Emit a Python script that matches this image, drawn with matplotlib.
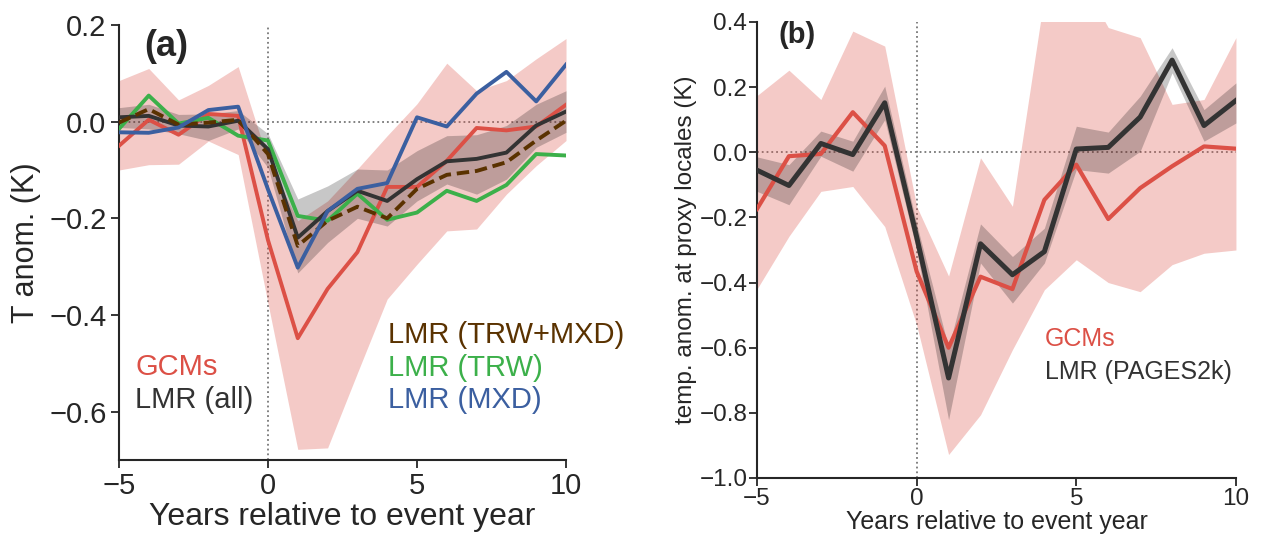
import matplotlib
matplotlib.use("Agg")
import matplotlib.pyplot as plt
import numpy as np

plt.rcParams['font.family'] = ['Liberation Sans', 'DejaVu Sans']
plt.rcParams['axes.unicode_minus'] = True

# event years
years = np.arange(-5, 11)

# panel (a): regional temperature anomaly
gcm_a = [-0.05, 0.004, -0.027, 0.016, 0.012, -0.245, -0.448, -0.346,
         -0.27, -0.135, -0.135, -0.081, -0.013, -0.018, -0.010, 0.035]
gcm_a_lo = [-0.10, -0.089, -0.088, -0.04, -0.068, -0.376, -0.678, -0.675,
            -0.52, -0.367, -0.295, -0.226, -0.222, -0.15, -0.091, -0.039]
gcm_a_hi = [0.085, 0.11, 0.045, 0.075, 0.114, -0.08, -0.205, -0.164,
            -0.098, -0.029, 0.037, 0.121, 0.064, 0.085, 0.13, 0.172]
lmr_all = [0.009, 0.012, -0.008, -0.01, 0.002, -0.057, -0.24, -0.185,
           -0.143, -0.164, -0.119, -0.082, -0.077, -0.064, -0.008, 0.021]
lmr_all_lo = [-0.012, -0.015, -0.025, -0.039, -0.015, -0.095, -0.313, -0.25,
              -0.2, -0.216, -0.164, -0.129, -0.15, -0.119, -0.053, -0.022]
lmr_all_hi = [0.029, 0.036, 0.015, 0.016, 0.023, -0.025, -0.16, -0.133,
              -0.098, -0.1, -0.06, -0.029, -0.027, -0.008, 0.036, 0.064]
lmr_trw = [-0.015, 0.054, -0.004, 0.008, -0.029, -0.039, -0.195, -0.205,
           -0.149, -0.203, -0.188, -0.143, -0.164, -0.131, -0.067, -0.07]
lmr_mxd = [-0.022, -0.023, -0.012, 0.024, 0.031, -0.14, -0.302, -0.185,
           -0.139, -0.127, 0.009, -0.01, 0.058, 0.103, 0.042, 0.118]
lmr_trw_mxd = [-0.002, 0.026, -0.006, -0.002, 0.004, -0.067, -0.257, -0.205,
               -0.176, -0.2, -0.139, -0.11, -0.102, -0.084, -0.039, 0.002]

# panel (b): anomaly at proxy locales
gcm_b = [-0.174, -0.012, -0.005, 0.123, 0.02, -0.366, -0.6, -0.382,
         -0.42, -0.146, -0.038, -0.205, -0.11, -0.043, 0.018, 0.011]
gcm_b_lo = [-0.42, -0.258, -0.12, -0.105, -0.228, -0.53, -0.928, -0.806,
            -0.606, -0.422, -0.33, -0.4, -0.428, -0.345, -0.31, -0.3]
gcm_b_hi = [0.174, 0.252, 0.162, 0.372, 0.326, -0.166, -0.38, -0.017,
            -0.166, 0.48, 0.56, 0.383, 0.352, 0.147, 0.162, 0.352]
lmr_b = [-0.055, -0.102, 0.027, -0.007, 0.152, -0.26, -0.693, -0.281,
         -0.376, -0.305, 0.01, 0.015, 0.108, 0.283, 0.082, 0.159]
lmr_b_lo = [-0.12, -0.161, -0.012, -0.058, 0.1, -0.3, -0.821, -0.34,
            -0.463, -0.34, -0.053, -0.064, 0.003, 0.244, 0.034, 0.09]
lmr_b_hi = [-0.014, -0.038, 0.065, 0.034, 0.203, -0.22, -0.6, -0.22,
            -0.32, -0.233, 0.08, 0.062, 0.172, 0.321, 0.131, 0.213]

red = '#dc5046'
dark = '#333333'
green = '#3cb04a'
blue = '#3b5fa0'
brown = '#5a3200'
txt = '#262626'


def style(ax, fs):
    for s in ['top', 'right']:
        ax.spines[s].set_visible(False)
    for s in ['left', 'bottom']:
        ax.spines[s].set_linewidth(1.5)
        ax.spines[s].set_color(txt)
    ax.tick_params(direction='out', length=6, width=1.3, colors=txt,
                   labelsize=fs, pad=3)
    ax.axhline(0, color='#777777', ls=':', lw=1.3, zorder=1)
    ax.axvline(0, color='#777777', ls=':', lw=1.3, zorder=1)


fig = plt.figure(figsize=(12.64, 5.39), dpi=100)

# ---- panel (a)
ax1 = fig.add_axes([0.0941, 0.1466, 0.3537, 0.8070])
ax1.fill_between(years, gcm_a_lo, gcm_a_hi, color=red, alpha=0.3, lw=0, zorder=2)
ax1.fill_between(years, lmr_all_lo, lmr_all_hi, color='k', alpha=0.22, lw=0, zorder=3)
ax1.plot(years, gcm_a, color=red, lw=2.8, zorder=4)
ax1.plot(years, lmr_trw, color=green, lw=2.8, zorder=5)
ax1.plot(years, lmr_all, color=dark, lw=2.8, zorder=6)
ax1.plot(years, lmr_trw_mxd, color=brown, lw=2.8, ls=(0, (3.2, 1.5)), zorder=7)
ax1.plot(years, lmr_mxd, color=blue, lw=2.8, zorder=8)
ax1.set_xlim(-5, 10)
ax1.set_ylim(-0.7, 0.2)
ax1.set_xticks([-5, 0, 5, 10])
ax1.set_yticks([-0.6, -0.4, -0.2, 0.0, 0.2])
ax1.set_yticklabels(['\u22120.6', '\u22120.4', '\u22120.2', '0.0', '0.2'])
ax1.set_xticklabels(['\u22125', '0', '5', '10'])
style(ax1, 21)
ax1.set_xlabel('Years relative to event year', fontsize=23, color=txt, labelpad=1)
ax1.set_ylabel('T anom. (K)', fontsize=22, color=txt, labelpad=6)
ax1.text(0.056, 0.95, '(a)', transform=ax1.transAxes, fontsize=26,
         fontweight='bold', color=txt, va='center', ha='left')
ax1.text(0.036, 0.214, 'GCMs', transform=ax1.transAxes, fontsize=21,
         color=red, va='center')
ax1.text(0.036, 0.138, 'LMR (all)', transform=ax1.transAxes, fontsize=21,
         color=dark, va='center')
ax1.text(0.602, 0.287, 'LMR (TRW+MXD)', transform=ax1.transAxes, fontsize=21,
         color=brown, va='center')
ax1.text(0.602, 0.211, 'LMR (TRW)', transform=ax1.transAxes, fontsize=21,
         color=green, va='center')
ax1.text(0.602, 0.138, 'LMR (MXD)', transform=ax1.transAxes, fontsize=21,
         color=blue, va='center')

# ---- panel (b)
ax2 = fig.add_axes([0.5989, 0.1132, 0.3789, 0.8460])
ax2.fill_between(years, gcm_b_lo, gcm_b_hi, color=red, alpha=0.3, lw=0, zorder=2)
ax2.fill_between(years, lmr_b_lo, lmr_b_hi, color='k', alpha=0.22, lw=0, zorder=3)
ax2.plot(years, gcm_b, color=red, lw=3.0, zorder=4)
ax2.plot(years, lmr_b, color=dark, lw=3.6, zorder=5)
ax2.set_xlim(-5, 10)
ax2.set_ylim(-1.0, 0.4)
ax2.set_xticks([-5, 0, 5, 10])
ax2.set_xticklabels(['\u22125', '0', '5', '10'])
ax2.set_yticks(np.arange(-1.0, 0.41, 0.2))
ax2.set_yticklabels(['\u22121.0', '\u22120.8', '\u22120.6', '\u22120.4',
                     '\u22120.2', '0.0', '0.2', '0.4'])
style(ax2, 17.5)
ax2.tick_params(pad=1)
ax2.set_xlabel('Years relative to event year', fontsize=18, color=txt, labelpad=0)
ax2.set_ylabel('temp. anom. at proxy locales (K)', fontsize=17.5, color=txt, labelpad=2)
ax2.text(0.044, 0.971, '(b)', transform=ax2.transAxes, fontsize=21,
         fontweight='bold', color=txt, va='center', ha='left')
ax2.text(0.601, 0.305, 'GCMs', transform=ax2.transAxes, fontsize=18,
         color=red, va='center')
ax2.text(0.601, 0.232, 'LMR (PAGES2k)', transform=ax2.transAxes, fontsize=18,
         color=dark, va='center')

fig.savefig('out.png', dpi=100)
